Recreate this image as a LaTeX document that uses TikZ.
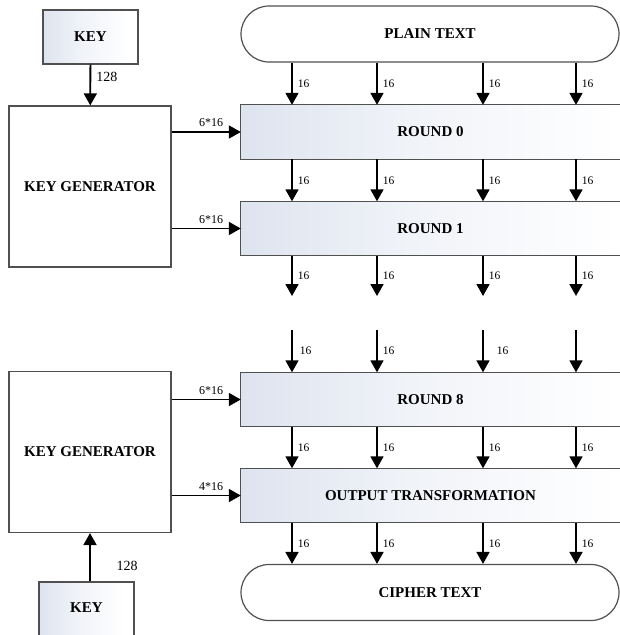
\documentclass[tikz,border=0pt]{standalone}
\usepackage{fontspec}
\setmainfont{Liberation Serif}
\usetikzlibrary{arrows.meta,backgrounds}
\definecolor{gradc}{HTML}{DEE4EF}
\definecolor{edgec}{HTML}{505050}
\pgfdeclarehorizontalshading{bandshade}{100bp}{color(0bp)=(gradc); color(25bp)=(gradc); color(45bp)=(white!55!gradc); color(70bp)=(white); color(100bp)=(white)}
\tikzset{
  boxline/.style={draw=edgec,line width=1.2pt},
  keybox/.style={boxline,shading=bandshade,minimum width=95pt,minimum height=54pt,font=\fontsize{15}{15}\selectfont\bfseries,inner sep=0pt},
  genbox/.style={boxline,fill=white,minimum width=162pt,minimum height=161pt,font=\fontsize{15}{15}\selectfont\bfseries,inner sep=0pt},
  textbox/.style={boxline,fill=white,rounded corners=28pt,minimum width=378pt,minimum height=56pt,font=\fontsize{15}{15}\selectfont\bfseries,inner sep=0pt},
  roundlbl/.style={minimum width=379pt,minimum height=54pt,font=\fontsize{15}{15}\selectfont\bfseries,inner sep=0pt},
  band/.style={boxline,shading=bandshade},
  arr/.style={line width=1.8pt,black,-{Triangle[length=12pt,width=13pt]}},
  lab/.style={font=\fontsize{11.5}{11.5}\selectfont,inner sep=1pt,anchor=west},
  klab/.style={font=\fontsize{14}{14}\selectfont,inner sep=1pt},
  wlab/.style={font=\fontsize{12}{12}\selectfont,inner sep=1pt,anchor=south},
}
\begin{document}
\begin{tikzpicture}[x=1pt,y=-1pt]
\clip (0,0) rectangle (620,635);
% columns
\coordinate (c1) at (292,0);
\coordinate (c2) at (377,0);
\coordinate (c3) at (483,0);
\coordinate (c4) at (576,0);
\coordinate (gapa) at (0,296);
\coordinate (gapb) at (0,330);
% nodes
\node[keybox] (key1) at (90.5,37) {KEY};
\node[genbox] (kg1) at (90,186.5) {KEY GENERATOR};
\node[textbox] (pt) at (430,34) {PLAIN TEXT};
\node[roundlbl] (r0) at (430.5,132) {ROUND 0};
\node[roundlbl] (r1) at (430.5,228.5) {ROUND 1};
\node[roundlbl] (r8) at (430.5,399.5) {ROUND 8};
\node[roundlbl] (ot) at (430.5,495.5) {OUTPUT TRANSFORMATION};
\node[textbox] (ct) at (430,592.5) {CIPHER TEXT};
\node[genbox] (kg2) at (90,452) {KEY GENERATOR};
\node[keybox,minimum height=70pt] (key2) at (86.5,617) {};
\node[font=\fontsize{15}{15}\selectfont\bfseries] (key2t) at (86.5,608) {KEY};
\begin{pgfonlayer}{background}
\fill[white] (0,0) rectangle (620,635);
\foreach \r in {r0,r1,r8,ot}{
  \path[band] (\r.south west) rectangle ([xshift=40pt]\r.north east);
}
\end{pgfonlayer}
% key arrows
\draw[arr] (key1) -- node[klab,right,pos=0.3,xshift=4pt]{128} (kg1);
\draw[arr] (kg2.south |- key2.north) -- (kg2.south);
\node[klab] (l128b) at (127,566) {128};
% horizontal arrows
\draw[arr] (kg1.east |- r0.west) -- node[wlab,xshift=5pt,yshift=3pt]{6*16} (r0.west);
\draw[arr] (kg1.east |- r1.west) -- node[wlab,xshift=5pt,yshift=3pt]{6*16} (r1.west);
\draw[arr] (kg2.east |- r8.west) -- node[wlab,xshift=5pt,yshift=3pt]{6*16} (r8.west);
\draw[arr] (kg2.east |- ot.west) -- node[wlab,xshift=5pt,yshift=3pt]{4*16} (ot.west);
% vertical arrows
\foreach \c in {c1,c2,c3,c4}{
  \draw[arr] (pt.south -| \c) -- node[lab,xshift=4pt]{16} (r0.north -| \c);
  \draw[arr] (r0.south -| \c) -- node[lab,xshift=4pt]{16} (r1.north -| \c);
  \draw[arr] (r1.south -| \c) -- node[lab,xshift=4pt]{16} (gapa -| \c);
  \draw[arr] (r8.south -| \c) -- node[lab,xshift=4pt]{16} (ot.north -| \c);
  \draw[arr] (ot.south -| \c) -- node[lab,xshift=4pt]{16} (ct.north -| \c);
}
\draw[arr] (gapb -| c1) -- node[lab,xshift=6pt]{16} (r8.north -| c1);
\draw[arr] (gapb -| c2) -- node[lab,xshift=4pt]{16} (r8.north -| c2);
\draw[arr] (gapb -| c3) -- node[lab,xshift=12pt]{16} (r8.north -| c3);
\draw[arr] (gapb -| c4) -- (r8.north -| c4);
\end{tikzpicture}
\end{document}
